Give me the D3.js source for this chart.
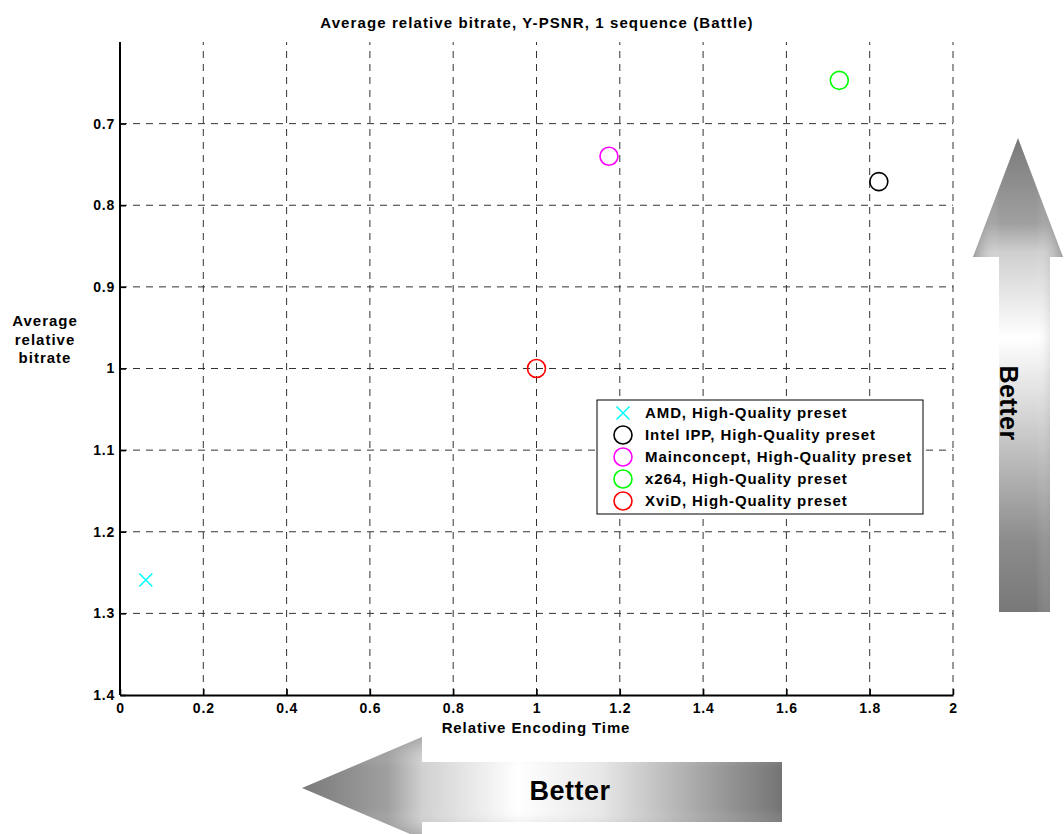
<!DOCTYPE html>
<html><head><meta charset="utf-8">
<script src="https://cdn.jsdelivr.net/npm/d3@7"></script>
<style>
body{margin:0;background:#fff;}
text{font-family:"Liberation Sans",Arial,sans-serif;font-weight:bold;}
</style></head>
<body>
<svg id="chart" width="1064" height="834"></svg>
<script>
const seriesNames = ["AMD, High-Quality preset","Intel IPP, High-Quality preset","Mainconcept, High-Quality preset","x264, High-Quality preset","XviD, High-Quality preset"];
const seriesColors = ["#00ffff","#000000","#ff00ff","#00ff00","#ff0000"];
const seriesSymbols = ["x","o","o","o","o"];
const encTime = [0.062, 1.822, 1.174, 1.727, 1.0];
const relBitrate = [1.259, 0.771, 0.740, 0.647, 1.0];
const xTicks = [0,0.2,0.4,0.6,0.8,1,1.2,1.4,1.6,1.8,2];
const yTicks = [0.7,0.8,0.9,1.0,1.1,1.2,1.3,1.4];

const svg = d3.select("#chart");
const L=120, R=953, T=42, B=695;
const x = d3.scaleLinear().domain([0,2]).range([L,R]);
const y = d3.scaleLinear().domain([0.6,1.4]).range([T,B]);

const defs = svg.append("defs");
const gv = defs.append("linearGradient").attr("id","gv").attr("x1",0).attr("y1",1).attr("x2",0).attr("y2",0);
[[0,"#787878"],[0.15,"#8c8c8c"],[0.45,"#dedede"],[0.58,"#ffffff"],[0.76,"#cfcfcf"],[0.82,"#a0a0a0"],[1,"#7a7a7a"]].forEach(s=>gv.append("stop").attr("offset",s[0]).attr("stop-color",s[1]));
const gvh = defs.append("linearGradient").attr("id","gvh").attr("x1",0).attr("y1",0).attr("x2",1).attr("y2",0);
[[0,"rgba(90,90,90,0.45)"],[0.3,"rgba(255,255,255,0)"],[0.7,"rgba(255,255,255,0)"],[1,"rgba(90,90,90,0.45)"]].forEach(s=>gvh.append("stop").attr("offset",s[0]).attr("stop-color",s[1]));
const gh = defs.append("linearGradient").attr("id","gh").attr("x1",0).attr("y1",0).attr("x2",1).attr("y2",0);
[[0,"#7a7a7a"],[0.18,"#a0a0a0"],[0.25,"#d0d0d0"],[0.45,"#ffffff"],[0.62,"#e8e8e8"],[0.85,"#a0a0a0"],[1,"#747474"]].forEach(s=>gh.append("stop").attr("offset",s[0]).attr("stop-color",s[1]));
const ghv = defs.append("linearGradient").attr("id","ghv").attr("x1",0).attr("y1",0).attr("x2",0).attr("y2",1);
[[0,"rgba(90,90,90,0.35)"],[0.3,"rgba(255,255,255,0)"],[0.7,"rgba(255,255,255,0)"],[1,"rgba(90,90,90,0.35)"]].forEach(s=>ghv.append("stop").attr("offset",s[0]).attr("stop-color",s[1]));

// grid
const grid = svg.append("g").attr("stroke","#333").attr("stroke-width",1).attr("stroke-dasharray","7,6");
xTicks.slice(1).forEach(t=>grid.append("line").attr("x1",x(t)).attr("x2",x(t)).attr("y1",B).attr("y2",T));
yTicks.slice(0,-1).forEach(t=>grid.append("line").attr("x1",L).attr("x2",R).attr("y1",y(t)).attr("y2",y(t)));

// axes
const xa = svg.append("g").attr("transform",`translate(0,${B})`)
  .call(d3.axisBottom(x).tickValues(xTicks).tickFormat(d3.format("~g")).tickSizeInner(-6).tickSizeOuter(0).tickPadding(8));
const ya = svg.append("g").attr("transform",`translate(${L},0)`)
  .call(d3.axisLeft(y).tickValues(yTicks).tickFormat(d3.format("~g")).tickSizeInner(-6).tickSizeOuter(0).tickPadding(5));
ya.select(".domain").attr("d",`M0,${T}V${B}`);
[xa,ya].forEach(a=>{a.select(".domain").attr("stroke","#000").attr("stroke-width",2);
  a.selectAll(".tick line").attr("stroke","#000").attr("stroke-width",1.5);
  a.selectAll("text").attr("font-size",14).attr("font-weight","bold").attr("fill","#000")
   .attr("letter-spacing",0.8).attr("font-family","Liberation Sans, Arial, sans-serif");});
xa.selectAll(".tick text").attr("dy","0.71em");

// titles
svg.append("text").attr("x",537).attr("y",28).attr("text-anchor","middle").attr("font-size",15).attr("letter-spacing",1.1).text("Average relative bitrate, Y-PSNR, 1 sequence (Battle)");
svg.append("text").attr("x",536).attr("y",733).attr("text-anchor","middle").attr("font-size",15).attr("letter-spacing",0.9).text("Relative Encoding Time");
const yl = svg.append("text").attr("x",45).attr("y",326).attr("text-anchor","middle").attr("font-size",15).attr("letter-spacing",1);
["Average","relative","bitrate"].forEach((s,i)=>yl.append("tspan").attr("x",45).attr("dy",i?18.5:0).text(s));

function drawMarker(g, sym, color, cx, cy){
  if(sym==="x"){
    const s=6.5;
    g.append("path").attr("d",`M${cx-s},${cy-s}L${cx+s},${cy+s}M${cx-s},${cy+s}L${cx+s},${cy-s}`).attr("stroke",color).attr("stroke-width",1.5).attr("fill","none");
  } else {
    g.append("circle").attr("cx",cx).attr("cy",cy).attr("r",9).attr("stroke",color).attr("stroke-width",1.6).attr("fill","none");
  }
}
const pts = svg.append("g");
encTime.forEach((v,i)=>drawMarker(pts, seriesSymbols[i], seriesColors[i], x(v), y(relBitrate[i])));

// legend
const lg = svg.append("g");
lg.append("rect").attr("x",597).attr("y",400).attr("width",326).attr("height",114).attr("fill","#fff").attr("stroke","#000").attr("stroke-width",1);
seriesNames.forEach((n,i)=>{
  const yy = 413 + i*22;
  drawMarker(lg, seriesSymbols[i], seriesColors[i], 623, yy);
  lg.append("text").attr("x",645).attr("y",yy+5).attr("font-size",15).attr("letter-spacing",0.9).text(n);
});

// vertical arrow
const vPath="M1018,138 L1063,257 L1050,257 L1050,612 L999,612 L999,257 L973,257 Z";
svg.append("path").attr("d",vPath).attr("fill","url(#gv)");
svg.append("path").attr("d",vPath).attr("fill","url(#gvh)");
svg.append("text").attr("transform","translate(1000,403) rotate(90)").attr("text-anchor","middle").attr("font-size",25).attr("letter-spacing",0.5).text("Better");

// horizontal arrow
const hPath="M302,788 L422,737 L422,762 L782,762 L782,822 L422,822 L422,839 Z";
svg.append("path").attr("d",hPath).attr("fill","url(#gh)");
svg.append("path").attr("d",hPath).attr("fill","url(#ghv)");
svg.append("text").attr("x",570).attr("y",800).attr("text-anchor","middle").attr("font-size",27).attr("letter-spacing",0.5).text("Better");
</script>
</body></html>
